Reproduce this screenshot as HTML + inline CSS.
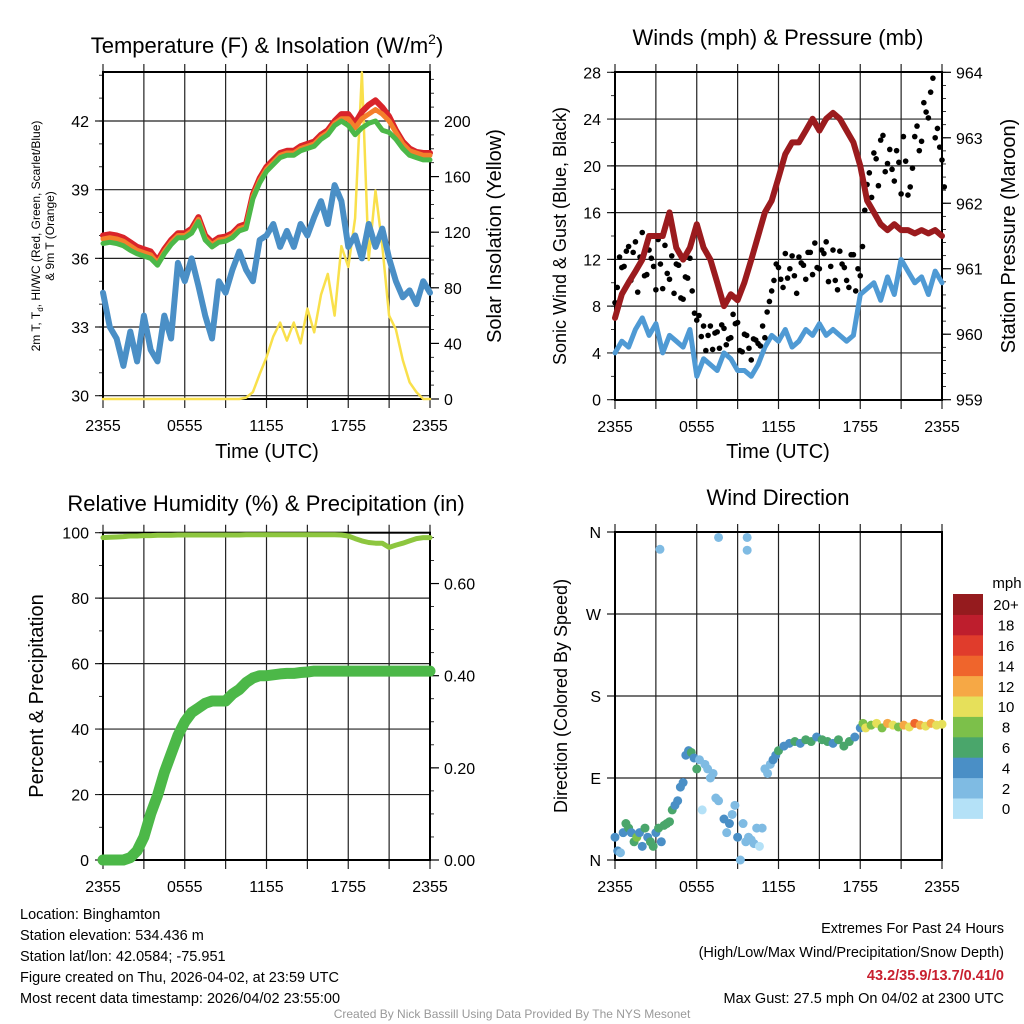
<!DOCTYPE html>
<html><head><meta charset="utf-8"><style>
body{margin:0;background:#fff;}
svg{display:block;font-family:"Liberation Sans",Arial,sans-serif;}
</style></head><body>
<svg id="fig" width="1024" height="1024" viewBox="0 0 1024 1024" xmlns="http://www.w3.org/2000/svg">
<rect width="1024" height="1024" fill="#fff"/>
<g id="g1"></g>
<g id="g2"></g>
<g id="g3"></g>
<g id="g4"></g>
<text x="267" y="53" font-size="22" text-anchor="middle">Temperature (F) &amp; Insolation (W/m<tspan font-size="14" dy="-9">2</tspan><tspan dy="9">)</tspan></text>
<text x="778" y="45" font-size="22" text-anchor="middle">Winds (mph) &amp; Pressure (mb)</text>
<text x="266" y="511" font-size="22" text-anchor="middle">Relative Humidity (%) &amp; Precipitation (in)</text>
<text x="778" y="505" font-size="22" text-anchor="middle">Wind Direction</text>
<text x="267" y="458" font-size="20" text-anchor="middle">Time (UTC)</text>
<text x="778" y="458" font-size="20" text-anchor="middle">Time (UTC)</text>
<text transform="translate(40,236) rotate(-90)" font-size="12" text-anchor="middle">2m T, T<tspan font-size="8" dy="3">d</tspan><tspan dy="-3">, HI/WC (Red, Green, Scarlet/Blue)</tspan></text>
<text transform="translate(54,236) rotate(-90)" font-size="12" text-anchor="middle">&amp; 9m T (Orange)</text>
<text transform="translate(501,236) rotate(-90)" font-size="20" text-anchor="middle">Solar Insolation (Yellow)</text>
<text transform="translate(566,236) rotate(-90)" font-size="18" text-anchor="middle">Sonic Wind &amp; Gust (Blue, Black)</text>
<text transform="translate(1015,236) rotate(-90)" font-size="20" text-anchor="middle">Station Pressure (Maroon)</text>
<text transform="translate(43,696) rotate(-90)" font-size="20" text-anchor="middle">Percent &amp; Precipitation</text>
<text transform="translate(567,696) rotate(-90)" font-size="18" text-anchor="middle">Direction (Colored By Speed)</text>
<g font-size="14.5">
<text x="20" y="919">Location: Binghamton</text>
<text x="20" y="940">Station elevation: 534.436 m</text>
<text x="20" y="961">Station lat/lon: 42.0584; -75.951</text>
<text x="20" y="982">Figure created on Thu, 2026-04-02, at 23:59 UTC</text>
<text x="20" y="1003">Most recent data timestamp: 2026/04/02 23:55:00</text>
</g>
<g font-size="14.5" text-anchor="end">
<text x="1004" y="933">Extremes For Past 24 Hours</text>
<text x="1004" y="957">(High/Low/Max Wind/Precipitation/Snow Depth)</text>
<text x="1004" y="980" fill="#c8202f" font-weight="bold">43.2/35.9/13.7/0.41/0</text>
<text x="1004" y="1003">Max Gust: 27.5 mph On 04/02 at 2300 UTC</text>
</g>
<text x="512" y="1018" font-size="12" fill="#999" text-anchor="middle">Created By Nick Bassill Using Data Provided By The NYS Mesonet</text>
</svg>
<script>
// ---- data (30-minute steps from 2355 to 2355) ----
const timeLabels = ["2355","0555","1155","1755","2355"];
const tempRed = [37.0,37.05,37.0,36.9,36.7,36.5,36.4,36.3,35.9,36.4,36.8,37.1,37.1,37.3,37.8,37.0,36.7,36.9,36.95,37.1,37.4,37.5,38.8,39.5,40.0,40.3,40.6,40.7,40.7,40.9,41.0,41.1,41.4,41.6,42.0,42.3,42.3,41.9,42.4,42.7,42.9,42.6,42.2,41.6,41.1,40.8,40.65,40.6,40.6];
const tempOrange = [36.85,36.9,36.85,36.75,36.55,36.35,36.25,36.15,35.8,36.3,36.7,37.0,37.0,37.2,37.7,36.9,36.6,36.8,36.85,37.0,37.3,37.4,38.7,39.4,39.9,40.2,40.5,40.6,40.6,40.8,40.9,41.0,41.3,41.5,41.9,42.1,42.1,41.7,42.1,42.3,42.5,42.3,42.0,41.5,41.0,40.7,40.6,40.5,40.5];
const tempGreen = [36.65,36.7,36.65,36.55,36.35,36.2,36.1,36.0,35.7,36.2,36.6,36.9,36.9,37.1,37.6,36.8,36.5,36.7,36.75,36.9,37.2,37.3,38.6,39.3,39.8,40.1,40.4,40.5,40.5,40.7,40.8,40.9,41.2,41.4,41.8,42.0,41.8,41.4,41.7,41.9,42.0,41.6,41.5,41.2,40.8,40.5,40.4,40.3,40.3];
const tempBlue = [34.5,33.0,32.5,31.3,32.8,31.5,33.5,32.0,31.5,33.5,32.5,35.8,35.0,36.0,34.8,33.5,32.5,35.0,34.5,35.5,36.3,35.5,35.0,36.8,37.0,37.5,36.5,37.2,36.5,37.5,37.0,37.8,38.5,37.5,39.2,38.5,36.5,37.0,36.0,37.5,36.5,37.3,36.0,35.0,34.3,34.6,34.0,35.0,34.5];
const insolation = [0,0,0,0,0,0,0,0,0,0,0,0,0,0,0,0,0,0,0,0,0,1,5,18,30,45,55,42,55,40,65,48,75,90,60,110,95,130,235,100,150,110,60,50,28,12,5,0,0];
const windSpeed = [4,5,4.5,6,7,5.5,6.5,4,5.5,5,4.5,6,2,3.5,3,2.5,4,3.5,2.5,2.5,2,3,4.5,5.5,5,6,4.5,5,6,5.5,6.5,5.5,6,5.5,5,5.5,9,9.5,10,8.5,10.5,9,12,11,10,10.5,9,11,10];
const pressure = [960.25,960.61,960.79,960.96,961.14,961.5,961.5,961.5,961.86,961.32,961.14,961.32,961.68,961.32,961.14,960.79,960.43,960.61,960.52,960.79,961.14,961.5,961.86,962.04,962.39,962.75,962.93,962.93,963.11,963.29,963.11,963.29,963.38,963.29,963.11,962.93,962.57,962.04,961.86,961.68,961.59,961.68,961.59,961.59,961.54,961.59,961.54,961.59,961.5];
// gusts: 20-minute steps
const gusts = [8.3,12.2,11.4,13.1,12.6,9.2,14.3,10.7,12.1,9.4,11.6,13.2,10.3,9.1,11.5,8.6,10.4,9.3,6.8,5.4,4.2,6.3,5.7,4.4,6.1,5.2,7.3,6.6,4.1,5.5,3.4,5.1,4.6,5.3,8.4,10.2,11.3,9.6,10.4,12.3,9.1,11.7,10.3,12.6,13.4,11.2,12.5,10.1,12.8,9.4,11.6,10.2,12.4,9.3,10.6,16.2,19.4,21.1,18.3,22.6,20.2,19.7,21.3,17.6,20.4,18.2,22.5,21.3,25.4,24.1,27.5,23.2,20.5];
const gusts2 = [9.6,11.3,12.7,10.2,13.5,12.2,10.6,12.8,11.4,13.7,9.5,10.8,12.3,11.6,8.7,10.5,12.1,7.4,7.2,6.3,5.5,4.3,5.8,6.4,4.7,5.3,6.5,4.2,5.6,4.4,5.2,4.8,6.3,7.5,9.3,11.6,10.3,12.5,11.2,10.6,12.2,11.5,12.6,10.7,11.3,12.8,13.5,11.4,10.2,12.7,11.3,9.6,12.4,11.2,13.1,18.4,17.3,20.6,22.2,19.5,21.4,18.7,20.3,22.5,17.5,19.8,23.4,22.1,24.6,26.3,22.4,21.6,18.2];
const humidity = [98.5,98.6,98.7,98.8,99,99,99.1,99.1,99.2,99.2,99.2,99.3,99.3,99.3,99.3,99.3,99.3,99.3,99.3,99.3,99.3,99.4,99.4,99.4,99.4,99.4,99.4,99.4,99.4,99.4,99.4,99.4,99.4,99.4,99.4,99.3,99.0,98.2,97.5,97.0,96.8,96.8,95.5,96.2,96.8,97.5,98.2,98.5,98.5];
const precip = [0,0,0,0,0.005,0.02,0.05,0.1,0.14,0.19,0.23,0.27,0.3,0.32,0.33,0.34,0.345,0.345,0.345,0.36,0.37,0.385,0.395,0.4,0.4,0.402,0.404,0.405,0.405,0.407,0.408,0.41,0.41,0.41,0.41,0.41,0.41,0.41,0.41,0.41,0.41,0.41,0.41,0.41,0.41,0.41,0.41,0.41,0.41];
const dirTimes = [0,0.2,0.4,0.6,0.8,1,1.2,1.4,1.6,1.8,2,2.2,2.4,2.6,2.8,3,3.2,3.4,3.6,3.8,4,4.2,4.4,4.6,4.8,5,5.2,5.4,5.6,5.8,6,6.2,6.4,6.6,6.8,7,7.2,7.4,7.6,8,8.2,8.4,8.6,8.8,9,9.2,9.4,9.6,9.8,10,10.2,10.4,10.6,10.8,3.3,7.6,9.7,9.7,11,11.2,11.4,11.6,11.8,12,12.4,12.8,13.2,13.6,14,14.4,14.8,15.2,15.6,16,16.4,16.8,17.2,17.6,18,18.2,18.4,18.8,19.2,19.6,20,20.4,20.8,21.2,21.6,22,22.4,22.8,23.2,23.6,24];
const dirValues = [25,10,8,30,40,35,30,20,25,30,15,35,25,20,15,30,35,20,38,40,42,55,60,65,80,85,115,120,118,112,100,110,55,105,100,90,95,68,65,45,30,40,50,60,25,0,40,20,25,22,18,35,15,35,341,354,354,340,100,95,105,110,115,120,125,128,130,128,132,130,135,132,130,128,132,125,130,135,145,150,145,148,150,145,150,148,146,148,146,150,148,147,150,148,149];
const dirSpeeds = [4,4,3,4,6,6,5,6,8,5,4,6,5,6,6,4,6,4,6,6,6,6,4,4,4,4,4,4,6,4,6,2,1,2,2,2,2,2,2,4,2,4,2,2,4,2,2,2,2,2,2,2,0,2,2,2,2,2,2,2,2,4,4,6,4,4,6,4,6,6,4,6,6,4,6,6,6,4,4,8,10,8,10,8,12,10,8,12,10,14,12,10,12,10,10];
const speedBins = ["0","2","4","6","8","10","12","14","16","18","20+"];
const binColors = ["#b4e1f7","#7fbbe3","#4a8fc6","#4aa66b","#7cc04a","#e6e05a","#f6a845","#ef652c","#e03c2c","#be1e2d","#951b1e"];

const NS="http://www.w3.org/2000/svg";
function mk(parent,tag,attrs){const e=document.createElementNS(NS,tag);for(const k in attrs)e.setAttribute(k,attrs[k]);parent.appendChild(e);return e;}
function lin(d0,d1,r0,r1){return v=>r0+(v-d0)*(r1-r0)/(d1-d0);}

function frame(g,x0,x1,y0,y1,yTicksL,yfL,fmtL,yTicksR,yfR,fmtR,minorL,minorR){
  const xs=lin(0,24,x0,x1);
  for(let h=0;h<=24;h+=3){
    const l=mk(g,'line',{x1:xs(h),x2:xs(h),y1:y0-8,y2:y1+9,stroke:'#222','stroke-width':1.2});
    
    
  }
  yTicksL.forEach(v=>{
    const l=mk(g,'line',{x1:x0-8,x2:x1,y1:yfL(v),y2:yfL(v),stroke:'#222','stroke-width':1.2});
    
    
    const t=mk(g,'text',{x:x0-14,y:yfL(v)+6,'font-size':16,'text-anchor':'end'});t.textContent=fmtL(v);
    
    
  });
  minorL.forEach(v=>{mk(g,'line',{x1:x0-4,x2:x0,y1:yfL(v),y2:yfL(v),stroke:'#000','stroke-width':0.8});});
  if(yTicksR){
    yTicksR.forEach(v=>{
      const l=mk(g,'line',{x1:x1,x2:x1+9,y1:yfR(v),y2:yfR(v),stroke:'#000','stroke-width':1.2});
      
      
      const t=mk(g,'text',{x:x1+14,y:yfR(v)+6,'font-size':16});t.textContent=fmtR(v);
      
      
    });
    minorR.forEach(v=>{mk(g,'line',{x1:x1,x2:x1+4,y1:yfR(v),y2:yfR(v),stroke:'#000','stroke-width':0.8});});
  }
  timeLabels.forEach((s,i)=>{
    const t=mk(g,'text',{x:xs(i*6),y:y1+32,'font-size':16,'text-anchor':'middle'});t.textContent=s;
    
    
  });
  const b=mk(g,'rect',{x:x0,y:y0,width:x1-x0,height:y1-y0,fill:'none',stroke:'#000','stroke-width':2});
  
  
  return xs;
}
function path(g,arr,step,xs,ys,color,w,name){
  let d='';arr.forEach((v,i)=>{d+=(i?'L':'M')+xs(i*step).toFixed(1)+','+ys(v).toFixed(1);});
  const p=mk(g,'path',{d:d,fill:'none',stroke:color,'stroke-width':w,'stroke-linejoin':'round','stroke-linecap':'round'});
  
  
  return p;
}
function range(a,b,s){const r=[];for(let v=a;v<=b+1e-9;v+=s)r.push(+v.toFixed(4));return r;}

// Panel 1
{
  const g=document.getElementById('g1');
  const yL=lin(30,42,395.7,121), yR=lin(0,200,399,121);
  const xs=frame(g,103,430,72,399,[30,33,36,39,42],yL,v=>v,[0,40,80,120,160,200],yR,v=>v,range(30,44,1),range(0,230,10));
  path(g,insolation,0.5,xs,yR,'#f9e04b',2.5,'insolation-line');
  path(g,tempBlue,0.5,xs,yL,'#4a8fc6',6,'heat-index-line');
  path(g,tempRed,0.5,xs,yL,'#d9242a',6,'temperature-line');
  path(g,tempOrange,0.5,xs,yL,'#f47f2b',5,'temperature-9m-line');
  path(g,tempGreen,0.5,xs,yL,'#4cb848',5,'dewpoint-line');
}
// Panel 2
{
  const g=document.getElementById('g2');
  const yL=lin(0,28,399.7,72.3), yR=lin(959,964,399.7,72.3);
  const xs=frame(g,615,942,72,400,range(0,28,4),yL,v=>v,[959,960,961,962,963,964],yR,v=>v,range(0,28,2),range(959,964,0.2));
  path(g,windSpeed,0.5,xs,yL,'#4f9ad4',5,'wind-speed-line');
  gusts.forEach((v,i)=>{const c=mk(g,'circle',{cx:xs(i/3),cy:yL(v),r:2.8,fill:'#000'});
    
    });
  gusts2.forEach((v,i)=>{const c=mk(g,'circle',{cx:xs(i/3+1/6),cy:yL(v),r:2.8,fill:'#000'});
    
    });
  path(g,pressure,0.5,xs,yR,'#9b1b1e',6,'pressure-line');
}
// Panel 3
{
  const g=document.getElementById('g3');
  const yL=lin(0,100,860,532.7), yR=lin(0,0.4,860,675.7);
  const xs=frame(g,103,430,532.7,860,range(0,100,20),yL,v=>v,[0,0.2,0.4,0.6],yR,v=>v.toFixed(2),range(0,100,10),range(0,0.7,0.05));
  path(g,humidity,0.5,xs,yL,'#8dc63f',5,'humidity-line');
  path(g,precip,0.5,xs,yR,'#4cb848',11,'precip-line');
}
// Panel 4
{
  const g=document.getElementById('g4');
  const yL=lin(0,360,860,532);
  const lab={0:'N',90:'E',180:'S',270:'W',360:'N'};
  const xs=frame(g,615,942,532,860,[0,90,180,270,360],yL,v=>lab[v],null,null,null,[],[]);
  dirValues.forEach((v,i)=>{
    const b=Math.min(10,Math.floor(dirSpeeds[i]/2));
    const c=mk(g,'circle',{cx:xs(dirTimes[i]),cy:yL(v),r:4.5,fill:binColors[b]});
    
    
  });
  const cb=mk(g,'g',{});
  
  
  const top=594,h=20.4;
  speedBins.forEach((s,i)=>{
    const y=top+(10-i)*h;
    const r=mk(cb,'rect',{x:953,y:y,width:30,height:h+0.5,fill:binColors[i]});
    
    
    const t=mk(cb,'text',{x:1006,y:y+h/2+6,'font-size':15,'text-anchor':'middle'});t.textContent=s;
    
    
  });
  const u=mk(cb,'text',{x:1007,y:588,'font-size':15,'text-anchor':'middle'});u.textContent='mph';
  
  
}
</script>
</body></html>
